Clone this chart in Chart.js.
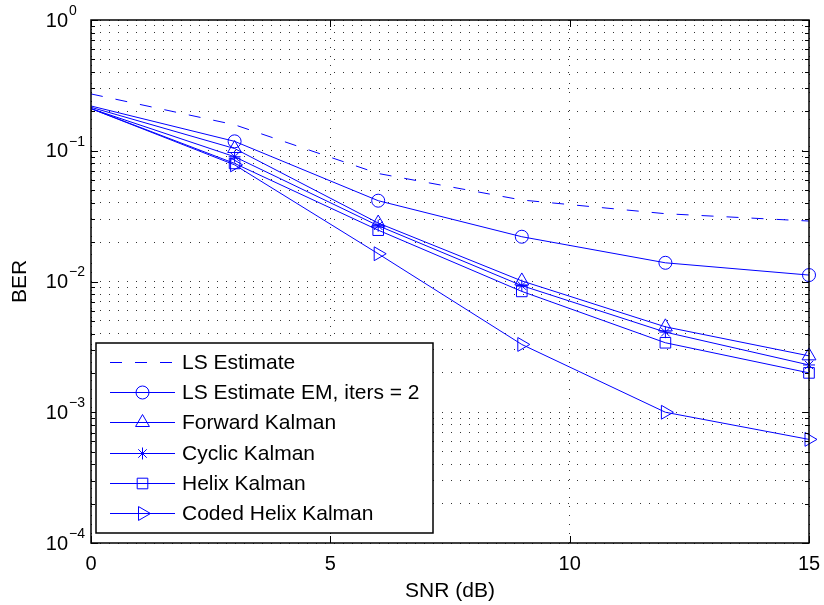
<!DOCTYPE html>
<html>
<head>
<meta charset="utf-8">
<script src="https://cdn.jsdelivr.net/npm/chart.js@4/dist/chart.umd.min.js"></script>
<style>
  html, body { margin: 0; padding: 0; background: #fff; }
  #wrap { width: 824px; height: 605px; }
</style>
</head>
<body>
<div id="wrap"><canvas id="berChart" width="824" height="605"></canvas></div>
<script>
// SNR points (dB)
const snr = [0, 3, 6, 9, 12, 15];

// BER curves
const lsEstimate   = [0.272, 0.158, 0.067, 0.042, 0.033, 0.029];
const lsEstimateEm = [0.22, 0.118, 0.0415, 0.022, 0.0139, 0.0112];
const forwardKalman = [0.215, 0.104, 0.028, 0.0101, 0.0045, 0.0027];
const cyclicKalman  = [0.21, 0.09, 0.0267, 0.0093, 0.0041, 0.0023];
const helixKalman   = [0.21, 0.08, 0.0247, 0.0084, 0.0034, 0.002];
const codedHelix    = [0.21, 0.078, 0.0163, 0.0033, 0.001, 0.00062];

// axis ticks
const xTicks = [0, 5, 10, 15];
const xTickLabels = ['0', '5', '10', '15'];
const yMajorTicks = [1e-4, 1e-3, 1e-2, 1e-1, 1];
const yTickExponents = ['\u22124', '\u22123', '\u22122', '\u22121', '0'];

const BLUE = '#0000ff';
const FONT = '"Liberation Sans", Arial, Helvetica, sans-serif';

function series(label, values, style) {
    const r = style.markerRadius || 0;
    return Object.assign({
        label: label,
        data: snr.map((x, i) => ({ x: x, y: values[i] })),
        borderColor: BLUE,
        backgroundColor: 'transparent',
        borderWidth: 1,
        pointBorderColor: BLUE,
        pointBackgroundColor: 'transparent',
        pointBorderWidth: 1,
        // no marker on the first point, as in the original figure
        pointRadius: snr.map(x => (x === 0 ? 0 : r)),
        tension: 0,
        clip: false
    }, style);
}

const datasets = [
    series('LS Estimate', lsEstimate, { borderDash: [12, 13] }),
    series('LS Estimate EM, iters = 2', lsEstimateEm, { pointStyle: 'circle', markerRadius: 6.5 }),
    series('Forward Kalman', forwardKalman, { pointStyle: 'triangle', markerRadius: 8 }),
    series('Cyclic Kalman', cyclicKalman, { pointStyle: 'star', markerRadius: 6 }),
    series('Helix Kalman', helixKalman, { pointStyle: 'rect', markerRadius: 7.5 }),
    series('Coded Helix Kalman', codedHelix, { pointStyle: 'triangle', pointRotation: 90, markerRadius: 8 })
];

// log minor ticks 2..9 in every decade
function yAllTicks() {
    const out = [];
    for (let i = 0; i < yMajorTicks.length; i++) {
        out.push({ value: yMajorTicks[i], major: true });
        if (i < yMajorTicks.length - 1) {
            for (let m = 2; m <= 9; m++) out.push({ value: m * yMajorTicks[i], major: false });
        }
    }
    return out;
}

function line(ctx, x1, y1, x2, y2) {
    ctx.beginPath();
    ctx.moveTo(x1, y1);
    ctx.lineTo(x2, y2);
    ctx.stroke();
}

// axes box, inward ticks, labels and legend in the matlab look
const matlabAxes = {
    id: 'matlabAxes',
    afterDraw(chart) {
        const ctx = chart.ctx;
        const a = chart.chartArea;
        const xs = chart.scales.x, ys = chart.scales.y;
        ctx.save();
        ctx.strokeStyle = '#000';
        ctx.lineWidth = 1;

        ys.ticks.forEach(t => {
            const y = Math.round(ys.getPixelForValue(t.value)) + 0.5;
            const len = t.major ? 7 : 4;
            line(ctx, a.left, y, a.left + len, y);
            line(ctx, a.right, y, a.right - len, y);
        });
        xs.ticks.forEach(t => {
            const x = Math.round(xs.getPixelForValue(t.value)) + 0.5;
            line(ctx, x, a.bottom, x, a.bottom - 7);
            line(ctx, x, a.top, x, a.top + 7);
        });

        ctx.lineWidth = 1.5;
        ctx.strokeRect(a.left, a.top, a.right - a.left, a.bottom - a.top);

        // tick labels
        ctx.fillStyle = '#000';
        ctx.textBaseline = 'middle';
        yMajorTicks.forEach((v, i) => {
            const y = ys.getPixelForValue(v);
            ctx.font = '20px ' + FONT;
            ctx.textAlign = 'right';
            ctx.fillText('10', 68, y + 1);
            ctx.font = '14px ' + FONT;
            ctx.textAlign = 'left';
            ctx.fillText(yTickExponents[i], 69, y - 9);
        });
        ctx.font = '20px ' + FONT;
        ctx.textAlign = 'center';
        xTicks.forEach((v, i) => {
            ctx.fillText(xTickLabels[i], xs.getPixelForValue(v), 564);
        });

        // axis titles
        ctx.font = '21px ' + FONT;
        ctx.fillText('SNR (dB)', (a.left + a.right) / 2, 591);
        ctx.save();
        ctx.translate(20, (a.top + a.bottom) / 2);
        ctx.rotate(-Math.PI / 2);
        ctx.fillText('BER', 0, 0);
        ctx.restore();

        // legend
        const lx = 96, ly = 343, lw = 337, lh = 190;
        ctx.fillStyle = '#fff';
        ctx.fillRect(lx, ly, lw, lh);
        ctx.lineWidth = 1.5;
        ctx.strokeStyle = '#000';
        ctx.strokeRect(lx, ly, lw, lh);
        chart.data.datasets.forEach((ds, i) => {
            const y = Math.round(361.7 + i * 30.3) + 0.5;
            ctx.strokeStyle = BLUE;
            ctx.lineWidth = 1;
            ctx.setLineDash(ds.borderDash || []);
            line(ctx, 110, y, 175, y);
            ctx.setLineDash([]);
            if (ds.markerRadius > 0) {
                ctx.fillStyle = 'rgba(0,0,0,0)';
                Chart.helpers.drawPoint(ctx, {
                    pointStyle: ds.pointStyle,
                    rotation: ds.pointRotation || 0,
                    radius: ds.markerRadius,
                    borderWidth: 1
                }, 142.5, y);
            }
            ctx.fillStyle = '#000';
            ctx.font = '21px ' + FONT;
            ctx.textAlign = 'left';
            ctx.textBaseline = 'middle';
            ctx.fillText(ds.label, 182, y + 1);
        });
        ctx.restore();
    }
};

const ctx = document.getElementById('berChart').getContext('2d');
new Chart(ctx, {
    type: 'line',
    data: { datasets: datasets },
    options: {
        responsive: false,
        devicePixelRatio: 1,
        animation: false,
        events: [],
        layout: { padding: { left: 91, top: 20, right: 15, bottom: 62 } },
        plugins: { legend: { display: false }, tooltip: { enabled: false } },
        scales: {
            x: {
                type: 'linear',
                min: 0,
                max: 15,
                afterBuildTicks: scale => { scale.ticks = xTicks.map(v => ({ value: v })); },
                ticks: { display: false },
                grid: { color: '#333', lineWidth: 1, drawTicks: false },
                border: { display: false, dash: [1, 8] }
            },
            y: {
                type: 'logarithmic',
                min: 1e-4,
                max: 1,
                afterBuildTicks: scale => { scale.ticks = yAllTicks(); },
                ticks: { display: false },
                grid: { color: '#333', lineWidth: 1, drawTicks: false },
                border: { display: false, dash: [1, 8] }
            }
        }
    },
    plugins: [matlabAxes]
});
</script>
</body>
</html>
